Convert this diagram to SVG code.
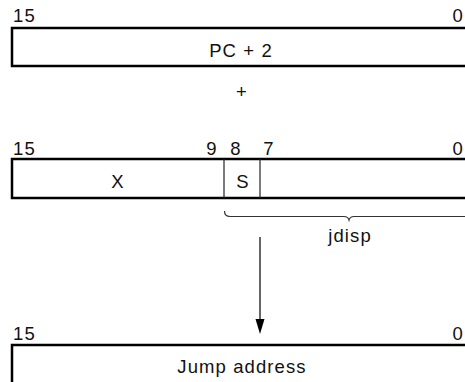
<svg xmlns="http://www.w3.org/2000/svg" width="465" height="382" viewBox="0 0 465 382">
<style>
text{font-family:"Liberation Sans",Arial,sans-serif;font-size:18.5px;fill:#111;letter-spacing:1.1px}
.c{text-anchor:middle}
.e{text-anchor:end}
.box{fill:#fff;stroke:#000;stroke-width:2.5}
.div{stroke:#222;stroke-width:1.2}
.thin{fill:none;stroke:#333;stroke-width:1.2}
.arrow{fill:#000}
</style>
<g id="reg1">
<text x="13" y="22">15</text>
<text x="464" y="22" class="e">0</text>
<rect class="box" x="12" y="28" width="470" height="38"/>
<text x="241" y="57" class="c">PC + 2</text>
</g>
<g id="plus">
<text x="242" y="98" class="c">+</text>
</g>
<g id="reg2">
<text x="13" y="155">15</text>
<text x="212" y="155" class="c">9</text>
<text x="236" y="155" class="c">8</text>
<text x="269" y="155" class="c">7</text>
<text x="464" y="155" class="e">0</text>
<rect class="box" x="12" y="159" width="470" height="39"/>
<line class="div" x1="224" y1="159" x2="224" y2="198"/>
<line class="div" x1="260" y1="159" x2="260" y2="198"/>
<text x="118" y="188" class="c">X</text>
<text x="243" y="188" class="c">S</text>
</g>
<g id="brace">
<path class="thin" d="M224.5,211 Q224.5,216.5 230,216.5 L344,216.5 Q348,216.5 349,220 Q350,216.5 354,216.5 L470,216.5"/>
<text x="350" y="242" class="c">jdisp</text>
</g>
<g id="reg3">
<text x="13" y="340">15</text>
<text x="464" y="340" class="e">0</text>
<rect class="box" x="12" y="345" width="470" height="50"/>
<text x="242" y="373" class="c">Jump address</text>
</g>
<g id="connectors">
<line x1="260" y1="237" x2="260" y2="320" stroke="#000" stroke-width="1.2"/>
<path class="arrow" d="M255.5,319 L264.5,319 L260,334 Z"/>
</g>
</svg>
